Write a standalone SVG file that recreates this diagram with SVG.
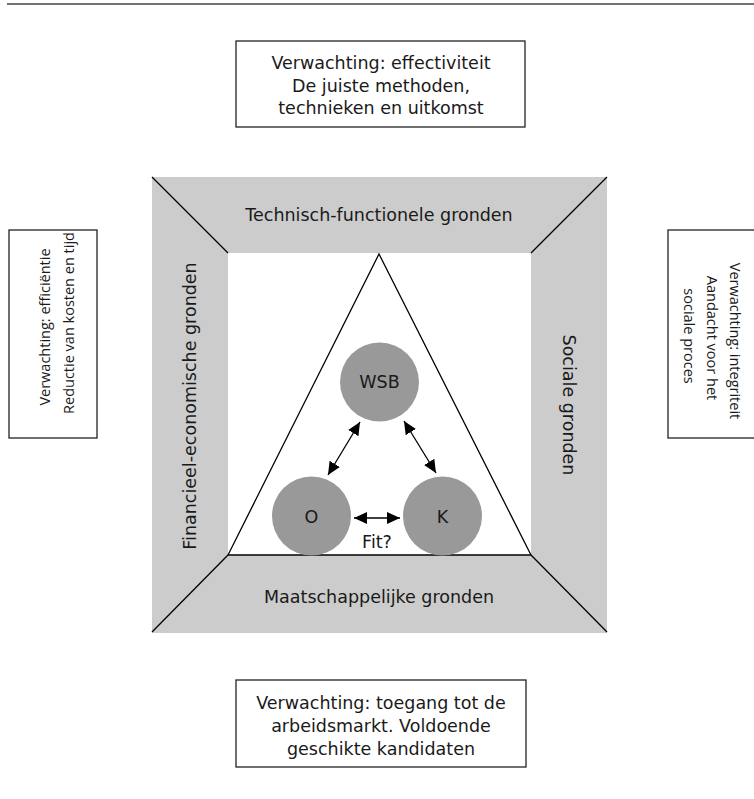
<svg xmlns="http://www.w3.org/2000/svg" width="754" height="799" viewBox="0 0 754 799">
<style>
text{font-family:"DejaVu Sans","Noto Sans",sans-serif;font-size:17.5px;fill:#1a1a1a;text-anchor:middle}
text.side{font-family:"Open Sans","Noto Sans",sans-serif;font-size:14.5px}
.box{fill:#fff;stroke:#222;stroke-width:1.3}
.gray{fill:#cccccc}
.diag{stroke:#000;stroke-width:1.3;fill:none}
.circ{fill:#999999}
.arr{stroke:#000;stroke-width:1.3;fill:none;marker-start:url(#ah);marker-end:url(#ah)}
</style>
<defs>
<marker id="ah" viewBox="0 0 13 12" refX="13" refY="6" markerWidth="13" markerHeight="12" markerUnits="userSpaceOnUse" orient="auto-start-reverse">
<path d="M0,0 L13,6 L0,12 z" fill="#000"/>
</marker>
</defs>
<line x1="7" y1="4" x2="754" y2="4" stroke="#444" stroke-width="1.6"/>

<g id="frame">
<path class="gray" fill-rule="evenodd" d="M152,177 H607 V633 H152 Z M228,253 V555 H531 V253 Z"/>
<line class="diag" x1="152" y1="177" x2="228" y2="253"/>
<line class="diag" x1="607" y1="177" x2="531" y2="253"/>
<line class="diag" x1="152" y1="632" x2="228" y2="555"/>
<line class="diag" x1="607" y1="632" x2="531" y2="555"/>
<text x="379" y="221">Technisch-functionele gronden</text>
<text x="379" y="603">Maatschappelijke gronden</text>
<text transform="translate(196,406) rotate(-90)">Financieel-economische gronden</text>
<text transform="translate(563,405) rotate(90)">Sociale gronden</text>
</g>

<g id="triangle">
<path d="M379,254 L228,555 H531 Z" fill="none" stroke="#000" stroke-width="1.3"/>
</g>

<g id="top-box">
<rect class="box" x="236" y="41" width="289" height="86"/>
<text x="381" y="69">Verwachting: effectiviteit</text>
<text x="381" y="92">De juiste methoden,</text>
<text x="381" y="114">technieken en uitkomst</text>
</g>

<g id="left-box">
<rect class="box" x="9" y="230" width="88" height="208"/>
<text class="side" transform="translate(50,327) rotate(-90)">Verwachting: efficiëntie</text>
<text class="side" transform="translate(74,323) rotate(-90)">Reductie van kosten en tijd</text>
</g>

<g id="right-box">
<rect class="box" x="668" y="230" width="90" height="208"/>
<text class="side" transform="translate(730,341) rotate(90)">Verwachting: integriteit</text>
<text class="side" transform="translate(707,338) rotate(90)">Aandacht voor het</text>
<text class="side" transform="translate(684,336) rotate(90)">sociale proces</text>
</g>

<g id="bottom-box">
<rect class="box" x="236" y="680" width="290" height="87"/>
<text x="381" y="709">Verwachting: toegang tot de</text>
<text x="381" y="732">arbeidsmarkt. Voldoende</text>
<text x="381" y="755">geschikte kandidaten</text>
</g>

<g id="node-wsb">
<circle class="circ" cx="379.5" cy="382" r="39.5"/>
<text x="379.5" y="388">WSB</text>
</g>
<g id="node-o">
<circle class="circ" cx="311.5" cy="516" r="39.5"/>
<text x="311.5" y="523">O</text>
</g>
<g id="node-k">
<circle class="circ" cx="442.5" cy="516" r="39.5"/>
<text x="442.5" y="523">K</text>
</g>

<g id="connectors">
<line class="arr" x1="360" y1="422" x2="328" y2="475"/>
<line class="arr" x1="404" y1="421" x2="436" y2="473"/>
<line class="arr" x1="354" y1="518" x2="400" y2="518"/>
<text x="377" y="548">Fit?</text>
</g>
</svg>
